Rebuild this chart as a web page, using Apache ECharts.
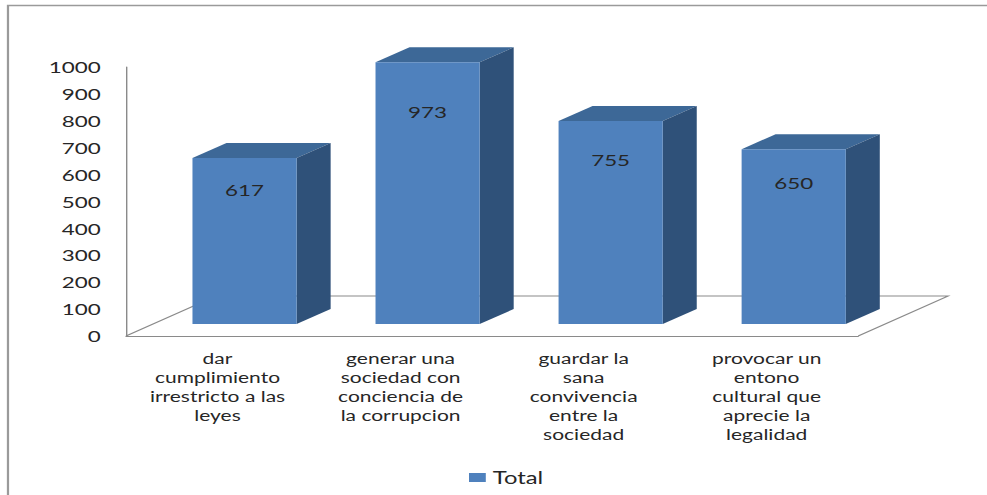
<!DOCTYPE html>
<html>
<head>
<meta charset="utf-8">
<script src="https://cdn.jsdelivr.net/npm/echarts@6/dist/echarts.min.js"></script>
<style>
  html, body { margin: 0; padding: 0; background: #ffffff; overflow: hidden; }
  /* The chart is laid out on a narrower canvas and widened, giving the broad lettering */
  #chart { width: 705px; height: 495px; transform: scaleX(1.4); transform-origin: 0 0; }
</style>
</head>
<body>
<div id="chart"></div>
<script>
// Categories (line breaks are part of the label text)
const categories = [
  'dar\ncumplimiento\nirrestricto a las\nleyes',
  'generar una\nsociedad con\nconciencia de\nla corrupcion',
  'guardar la\nsana\nconvivencia\nentre la\nsociedad',
  'provocar un\nentono\ncultural que\naprecie la\nlegalidad'
];
// Series values
const totals = [617, 973, 755, 650];
const seriesName = 'Total';
// Value axis range
const yMin = 0;
const yMax = 1000;
const yStep = 100;

// Oblique 3D geometry (px, in chart layout space)
const FLOOR_DX = 64.3, FLOOR_DY = -40;   // depth of the floor
const FRONT_DX = 19.3, FRONT_DY = -12;   // front plane of the columns
const DEPTH_DX = 24.3, DEPTH_DY = -15;   // depth of each column
const BAR_RATIO = 0.569;                 // column width / category band
const LABEL_AT = 0.81;                   // value label height as share of the column

const FRONT = '#4F81BD', TOP = '#3D6897', SIDE = '#2F5179';
const FONT = 'Lato, "Open Sans", sans-serif';
const INK = '#262626';

function renderFloor(params) {
  const cs = params.coordSys;
  const x0 = cs.x, x1 = cs.x + cs.width, y0 = cs.y + cs.height;
  return {
    type: 'polyline',
    shape: { points: [[x0, y0], [x0 + FLOOR_DX, y0 + FLOOR_DY], [x1 + FLOOR_DX, y0 + FLOOR_DY], [x1, y0]] },
    style: { stroke: '#8a8a8a', lineWidth: 1, fill: null },
    silent: true
  };
}

function renderColumn(params, api) {
  const i = api.value(0), v = api.value(1);
  const base = api.coord([i, 0]);
  const top = api.coord([i, v]);
  const lab = api.coord([i, v * LABEL_AT]);
  const hw = api.size([1, 0])[0] * BAR_RATIO / 2;
  const cx = base[0] + FRONT_DX;
  const yb = base[1] + FRONT_DY;
  const yt = top[1] + FRONT_DY;
  const l = cx - hw, r = cx + hw;
  return {
    type: 'group',
    children: [
      { type: 'polygon', shape: { points: [[l, yt], [r, yt], [r + DEPTH_DX, yt + DEPTH_DY], [l + DEPTH_DX, yt + DEPTH_DY]] }, style: { fill: TOP } },
      { type: 'polygon', shape: { points: [[r, yt], [r + DEPTH_DX, yt + DEPTH_DY], [r + DEPTH_DX, yb + DEPTH_DY], [r, yb]] }, style: { fill: SIDE } },
      { type: 'rect', shape: { x: l, y: yt, width: r - l, height: yb - yt }, style: { fill: FRONT } },
      { type: 'text', style: { text: String(v), x: cx, y: lab[1] + FRONT_DY, align: 'center', verticalAlign: 'middle', fill: INK, fontSize: 16, fontFamily: FONT } }
    ]
  };
}

const chart = echarts.init(document.getElementById('chart'), null, { renderer: 'svg' });
chart.setOption({
  animation: false,
  backgroundColor: '#ffffff',
  graphic: [{
    type: 'rect',
    shape: { x: 5.7, y: 5.5, width: 900, height: 700 },
    style: { fill: null, stroke: '#9a9a9a', lineWidth: 1.6 },
    silent: true
  }],
  grid: { left: 90, right: 92, top: 67, bottom: 159 },
  legend: {
    data: [seriesName],
    left: 330,
    top: 464,
    icon: 'rect',
    itemWidth: 12,
    itemHeight: 9,
    textStyle: { fontFamily: FONT, fontSize: 17, color: INK }
  },
  xAxis: {
    type: 'category',
    data: categories,
    axisLine: { show: true, lineStyle: { color: '#8a8a8a', width: 1 } },
    axisTick: { show: false },
    axisLabel: { interval: 0, margin: 13, fontFamily: FONT, fontSize: 15, lineHeight: 19, color: INK, align: 'center' },
    splitLine: { show: false }
  },
  yAxis: {
    type: 'value',
    min: yMin,
    max: yMax,
    interval: yStep,
    axisLine: { show: true, lineStyle: { color: '#8a8a8a', width: 1 } },
    axisTick: { show: false },
    axisLabel: { margin: 18, fontFamily: FONT, fontSize: 16, color: INK, formatter: (v) => String(v) },
    splitLine: { show: false }
  },
  series: [
    {
      name: 'floor',
      type: 'custom',
      renderItem: renderFloor,
      data: [[0, 0]],
      silent: true,
      z: 1
    },
    {
      name: seriesName,
      type: 'custom',
      renderItem: renderColumn,
      itemStyle: { color: FRONT },
      data: totals.map((v, i) => [i, v]),
      z: 2
    }
  ]
});
</script>
</body>
</html>
